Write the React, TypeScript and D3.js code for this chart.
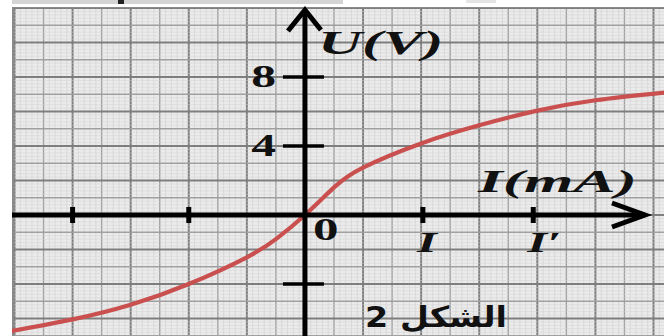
import React from 'react';
import * as d3 from 'd3';

// Characteristic curve U = f(I)
// (I in grid divisions, U in volts)
const currentI = [-5.1, -4, -3, -2, -1, -0.5, 0, 0.5, 1, 2, 3, 4, 5, 6.2];
const voltageU = [-6.75, -6.05, -5.2, -4.0, -2.45, -1.4, 0, 1.6, 2.75, 4.15, 5.2, 6.05, 6.65, 7.1];

const uTickValues = [8, 4, -4];
const uTickLabels = ['8', '4', ''];
const iTickValues = [-4, -2, 2.03, 3.93];
const iTickLabels = ['', '', 'I', 'I\u2032'];

const uAxisTitle = 'U(V)';
const iAxisTitle = 'I(mA)';
const originLabel = '0';
const figureCaption = 'الشكل 2';

const W = 664;
const H = 336;
const GRID_LEFT = 12;
const GRID_TOP = 7;

function Stretch({ x, y, sx = 1.7, children, ...rest }: any) {
  return (
    <text transform={`translate(${x},${y}) scale(${sx},1)`} {...rest}>
      {children}
    </text>
  );
}

export default function App() {
  const x = d3.scaleLinear().domain([-5, 6]).range([14.5, 653.5]);
  const y = d3.scaleLinear().domain([-7, 12]).range([335.75, 8]);

  const xMin = x.invert(GRID_LEFT);
  const xMax = x.invert(W);
  const yMin = y.invert(H);
  const yMax = y.invert(GRID_TOP);

  const fineX = d3.range(Math.ceil(xMin * 10), Math.floor(xMax * 10) + 1).map((k) => k / 10);
  const fineY = d3.range(Math.ceil(yMin * 5), Math.floor(yMax * 5) + 1).map((k) => k / 5);

  const line = d3
    .line<number>()
    .x((_, i) => x(currentI[i]))
    .y((d) => y(d))
    .curve(d3.curveNatural);

  const x0 = x(0);
  const y0 = y(0);
  const font = '"Liberation Serif", "DejaVu Serif", serif';

  return (
    <svg
      width={W}
      height={H}
      viewBox={`0 0 ${W} ${H}`}
      style={{ position: 'absolute', left: 0, top: 0, background: '#fff' }}
    >
      <defs>
        <clipPath id="gridClip">
          <rect x={GRID_LEFT} y={GRID_TOP} width={W - GRID_LEFT} height={H - GRID_TOP} />
        </clipPath>
      </defs>

      {/* cropped remains of the content above */}
      <rect x={GRID_LEFT} y={0} width={331} height={4} fill="#d4d4d4" />
      <rect x={118} y={0} width={6} height={4} fill="#222" />
      <rect x={466} y={0} width={30} height={3} fill="#e4e4e4" />

      {/* graph paper */}
      <g clipPath="url(#gridClip)">
        <rect x={GRID_LEFT} y={GRID_TOP} width={W - GRID_LEFT} height={H - GRID_TOP} fill="#ebebeb" />
        {fineX.map((v) => {
          const k = Math.round(v * 10);
          const major = k % 10 === 0;
          const mid = k % 5 === 0;
          return (
            <line
              key={'vx' + k}
              x1={x(v)}
              x2={x(v)}
              y1={GRID_TOP}
              y2={H}
              stroke={major ? '#7e7e7e' : mid ? '#a0a0a0' : '#cecece'}
              strokeWidth={major ? 2 : mid ? 1.4 : 0.6}
            />
          );
        })}
        {fineY.map((v) => {
          const k = Math.round(v * 5);
          const major = k % 10 === 0;
          const mid = k % 5 === 0;
          return (
            <line
              key={'hy' + k}
              x1={GRID_LEFT}
              x2={W}
              y1={y(v)}
              y2={y(v)}
              stroke={major ? '#7e7e7e' : mid ? '#a0a0a0' : '#d2d2d2'}
              strokeWidth={major ? 2 : mid ? 1.4 : 0.5}
            />
          );
        })}
        <rect x={GRID_LEFT + 1} y={GRID_TOP} width={W} height={H} fill="none" stroke="#8a8a8a" strokeWidth={2} />
      </g>

      {/* curve */}
      <g clipPath="url(#gridClip)">
        <path d={line(voltageU) || ''} fill="none" stroke="#c9504f" strokeWidth={4.2} strokeLinecap="round" />
      </g>

      {/* axes */}
      <line x1={GRID_LEFT} x2={645} y1={y0} y2={y0} stroke="#000" strokeWidth={5} />
      <line x1={x0} x2={x0} y1={H} y2={10} stroke="#000" strokeWidth={5} />
      <polyline
        points={`${x0 - 17},${31} ${x0},${10} ${x0 + 16},${30}`}
        fill="none"
        stroke="#000"
        strokeWidth={5}
        strokeLinejoin="miter"
      />
      <polyline
        points={`${612},${y0 - 12} ${645},${y0} ${612},${y0 + 12}`}
        fill="none"
        stroke="#000"
        strokeWidth={5}
        strokeLinejoin="miter"
      />

      {/* U ticks */}
      {uTickValues.map((v, i) => (
        <g key={'ut' + v}>
          <line x1={x0 - 22} x2={x0 + 19} y1={y(v)} y2={y(v)} stroke="#000" strokeWidth={3.5} />
          {uTickLabels[i] && (
            <Stretch
              x={x0 - 29}
              y={y(v) + 10}
              sx={1.6}
              textAnchor="end"
              fontFamily={font}
              fontWeight="bold"
              fontSize={31}
              fill="#111"
            >
              {uTickLabels[i]}
            </Stretch>
          )}
        </g>
      ))}

      {/* I ticks */}
      {iTickValues.map((v, i) => (
        <g key={'it' + v}>
          <line x1={x(v)} x2={x(v)} y1={y0 - 8} y2={y0 + 8} stroke="#000" strokeWidth={5} />
          {iTickLabels[i] && (
            <Stretch
              x={x(v) - 6}
              y={y0 + 37}
              fontFamily={font}
              fontWeight="bold"
              fontStyle="italic"
              fontSize={30}
              fill="#111"
            >
              {iTickLabels[i]}
            </Stretch>
          )}
        </g>
      ))}

      {/* titles */}
      <Stretch x={318} y={54} sx={1.85} fontFamily={font} fontWeight="bold" fontStyle="italic" fontSize={33} fill="#111">
        {uAxisTitle}
      </Stretch>
      <Stretch x={478} y={192} sx={2.05} fontFamily={font} fontWeight="bold" fontStyle="italic" fontSize={31} fill="#111">
        {iAxisTitle}
      </Stretch>
      <Stretch x={313} y={240} sx={1.65} fontFamily={font} fontWeight="bold" fontSize={31} fill="#111">
        {originLabel}
      </Stretch>
      <g transform="translate(507,327) scale(1.15,1)">
        <text
          x={0}
          y={0}
          direction="rtl"
          textAnchor="start"
          fontFamily='"DejaVu Sans", "Noto Sans", sans-serif'
          fontWeight="bold"
          fontSize={29}
          fill="#111"
        >
          {figureCaption}
        </text>
      </g>
    </svg>
  );
}
